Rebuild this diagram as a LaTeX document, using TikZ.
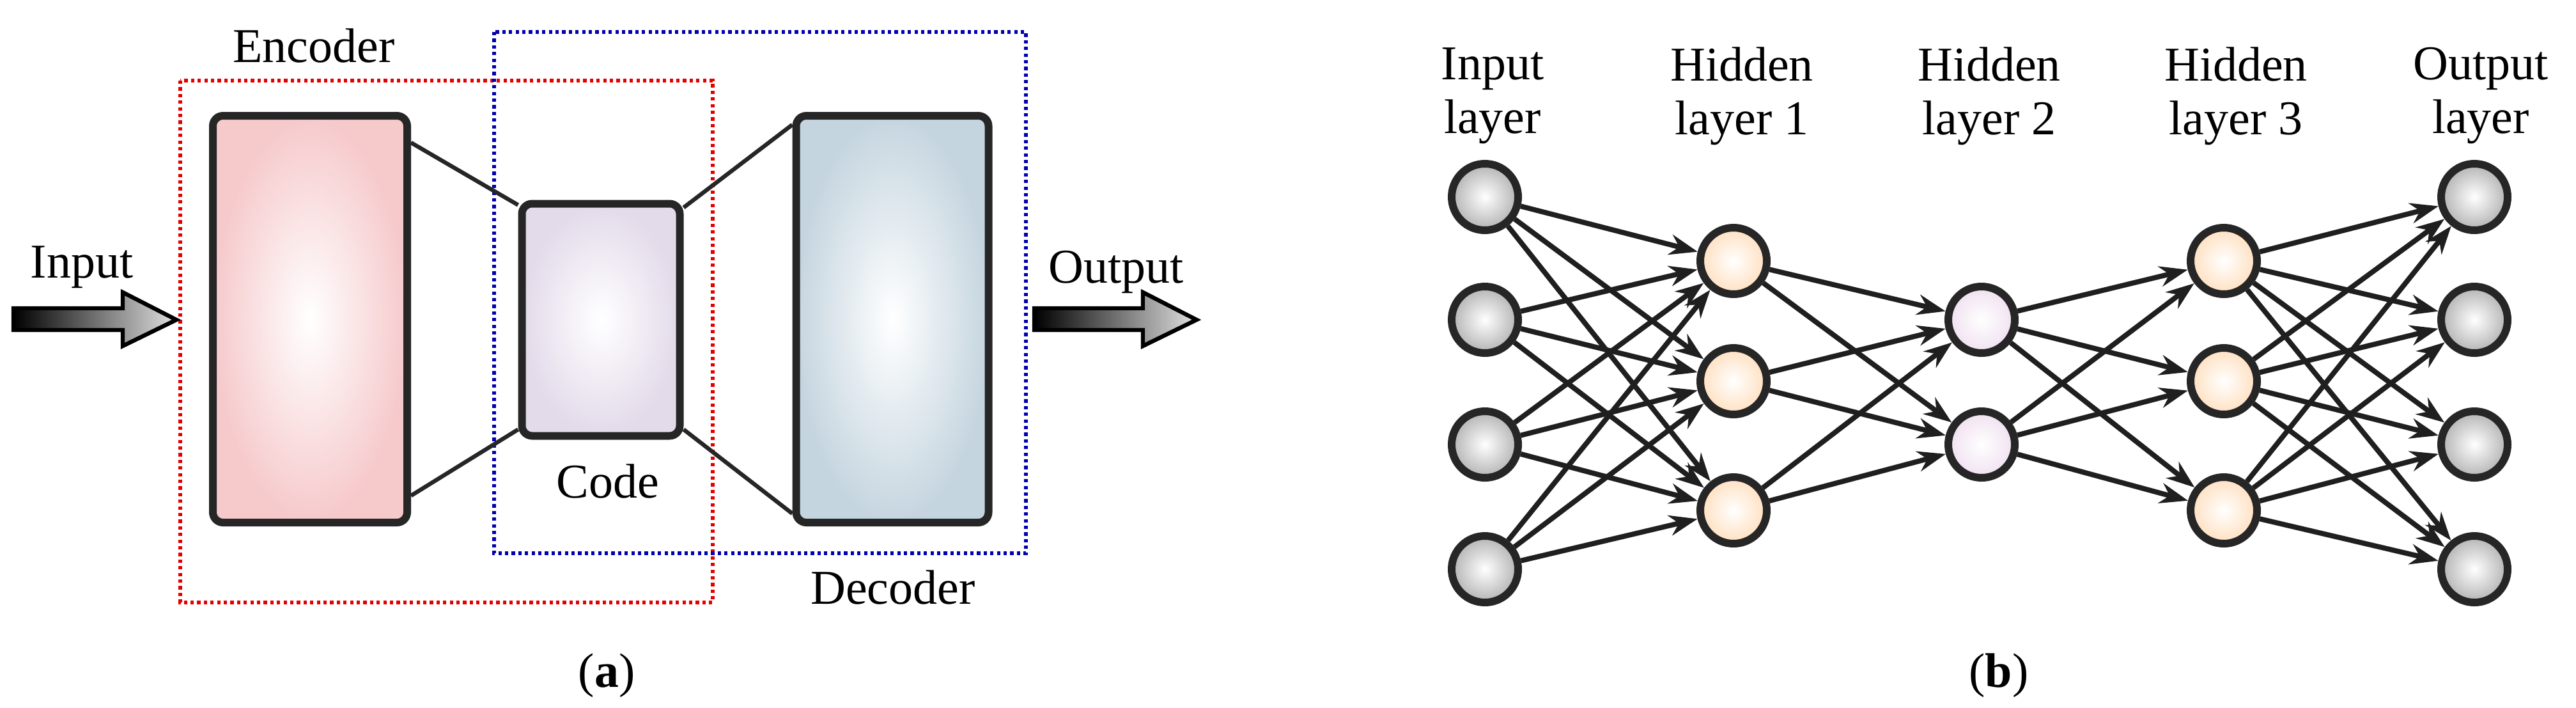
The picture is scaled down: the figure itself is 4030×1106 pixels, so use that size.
\documentclass[tikz,border=0pt]{standalone}
\usepackage{fontspec}
\setmainfont{Liberation Serif}
\usetikzlibrary{arrows.meta}
\definecolor{encc}{HTML}{F6C9CB}
\definecolor{decc}{HTML}{C5D5DF}
\definecolor{codec}{HTML}{E3DAEA}
\begin{document}
\begin{tikzpicture}[x=0.25pt,y=-0.25pt,
  lbl/.style={font=\fontsize{19}{21}\selectfont, align=center, inner sep=0pt},
  blk/.style={draw=black!85, line width=3pt, rounded corners=4pt, shading=radial, inner color=white},
  conn/.style={draw=black!85, line width=1.6pt},
  neu/.style={circle, draw=black!85, line width=3pt, minimum size=26pt, inner sep=0pt, shading=radial, inner color=white},
  gnode/.style={neu, outer color=black!30},
  onode/.style={neu, outer color=orange!25},
  pnode/.style={neu, outer color=violet!12},
  edge/.style={draw=black!88, line width=2pt, -{Stealth[length=11pt,width=8pt]}},
  fat/.style={draw=black, line width=1.6pt, left color=black, right color=black!12},
  dbox/.style={line width=1.3pt, dash pattern=on 1.3pt off 1.3pt}]
\useasboundingbox (0,0) rectangle (4030,1106);
% ---------- (a)
\draw[dbox, red!90!black] (282,126) rectangle (1115,942);
\draw[dbox, blue!70!black] (773,50) rectangle (1605,865);
\node[blk, outer color=encc, minimum width=76pt, minimum height=159pt] (enc) at (485,499) {};
\node[blk, outer color=codec, minimum width=61.75pt, minimum height=90.75pt] (code) at (940,500) {};
\node[blk, outer color=decc, minimum width=75.25pt, minimum height=159pt] (dec) at (1396,499) {};
\draw[conn] ([yshift=-12pt]enc.north east) -- ([yshift=-2pt]code.north west);
\draw[conn] ([yshift=12pt]enc.south east) -- ([yshift=4pt]code.south west);
\draw[conn] ([yshift=-3pt]code.north east) -- ([yshift=-5pt]dec.north west);
\draw[conn] ([yshift=4pt]code.south east) -- ([yshift=5pt]dec.south west);
\shadedraw[fat] (21,482) -- (192,482) -- (192,457) -- (276,500) -- (192,541) -- (192,516) -- (21,516) -- cycle;
\shadedraw[fat] (1618,482) -- (1788,482) -- (1788,457) -- (1872,500) -- (1788,541) -- (1788,516) -- (1618,516) -- cycle;
\node[lbl] (tenc) at (491,71) {Encoder};
\node[lbl] (tin) at (128,418) {Input};
\node[lbl] (tout) at (1746,425) {Output};
\node[lbl] (tcode) at (951,752) {Code};
\node[lbl] (tdec) at (1397,918) {Decoder};
\node[lbl] (ta) at (949,1056) {(\textbf{a})};
% ---------- (b)
\foreach \i/\y in {1/308,2/500,3/695,4/890}{
  \node[gnode] (i\i) at (2323,\y) {};
  \node[gnode] (o\i) at (3871,\y) {};
}
\foreach \i/\y in {1/408,2/596,3/798}{
  \node[onode] (a\i) at (2712,\y) {};
  \node[onode] (c\i) at (3479,\y) {};
}
\foreach \i/\y in {1/500,2/695}{ \node[pnode] (b\i) at (3100,\y) {}; }
\foreach \s in {1,...,4}{\foreach \t in {1,2,3}{\draw[edge] (i\s) -- (a\t);}}
\foreach \s in {1,2,3}{\foreach \t in {1,2}{\draw[edge] (a\s) -- (b\t);}}
\foreach \s in {1,2}{\foreach \t in {1,2,3}{\draw[edge] (b\s) -- (c\t);}}
\foreach \s in {1,2,3}{\foreach \t in {1,...,4}{\draw[edge] (c\s) -- (o\t);}}
\node[lbl] (l1) at (2335,150) {Input\\layer};
\node[lbl] (l2) at (2725,150) {Hidden\\layer 1};
\node[lbl] (l3) at (3112,150) {Hidden\\layer 2};
\node[lbl] (l4) at (3498,150) {Hidden\\layer 3};
\node[lbl] (l5) at (3881,150) {Output\\layer};
\node[lbl] (tb) at (3127,1056) {(\textbf{b})};
\end{tikzpicture}
\end{document}
